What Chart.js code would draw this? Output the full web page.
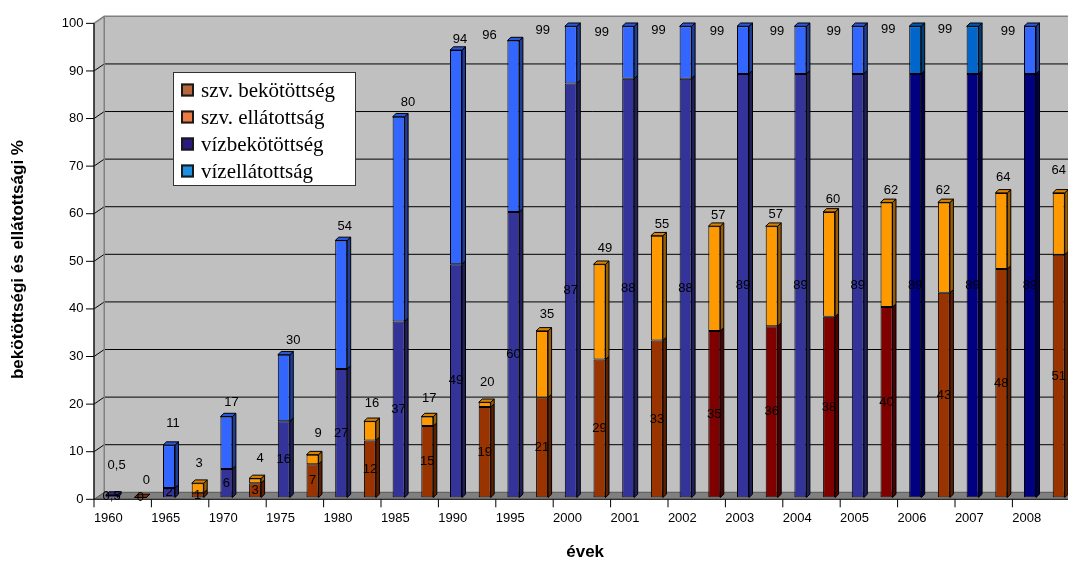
<!DOCTYPE html>
<html lang="hu">
<head>
<meta charset="utf-8">
<title>Víz- és szennyvízcsatorna-ellátottság</title>
<script src="https://cdn.jsdelivr.net/npm/chart.js@4.4.1/dist/chart.umd.min.js"></script>
<style>
  html, body { margin: 0; padding: 0; background: #fff; overflow: hidden; width: 1068px; height: 561px; }
  #wrap { position: relative; width: 1080px; height: 561px; }
  canvas { display: block; }
</style>
</head>
<body>
<div id="wrap"><canvas id="chart" width="1080" height="561"></canvas></div>
<script>
// ---- data ----
const years = ['1960', '1965', '1970', '1975', '1980', '1985', '1990', '1995', '2000',
               '2001', '2002', '2003', '2004', '2005', '2006', '2007', '2008'];
const vizBekotottseg = [0.5, 2, 6, 16, 27, 37, 49, 60, 87, 88, 88, 89, 89, 89, 89, 89, 89];
const vizEllatottsag = [0.5, 11, 17, 30, 54, 80, 94, 96, 99, 99, 99, 99, 99, 99, 99, 99, 99];
const szvBekotottseg = [0, 1, 3, 7, 12, 15, 19, 21, 29, 33, 35, 36, 38, 40, 43, 48, 51];
const szvEllatottsag = [0, 3, 4, 9, 16, 17, 20, 35, 49, 55, 57, 57, 60, 62, 62, 64, 64];
const yTickValues = [0, 10, 20, 30, 40, 50, 60, 70, 80, 90, 100];

// ---- styles ----
const FONT_SANS = '"Liberation Sans", Arial, Helvetica, sans-serif';
const FONT_SERIF = '"Liberation Serif", "Times New Roman", serif';
const vizBekColor = years.map(y => y >= '2006' ? '#000080' : '#333399');
const vizEllColor = years.map(y => (y === '2006' || y === '2007') ? '#0066CC' : '#3366FF');
const szvBekColor = years.map(y => (y >= '2002' && y <= '2005') ? '#800000' : '#993300');
const szvEllColor = years.map(() => '#FF9900');

// value-label placement relative to the top of each column (px)
const vizTopLabelShift = [[5, -30], [4, -22], [5, -14], [9.5, -14.5], [3.5, -14], [9.5, -14.5], [4, -11],
  [-24, -5], [-28, 4], [-26.5, 6], [-27, 4], [-26, 5], [-23.5, 5], [-24, 5], [-27, 3], [-27.5, 3], [-22, 5]];
const szvTopLabelShift = [[6, -17.5], [1.5, -20], [5, -20], [5.5, -21], [2, -18], [2, -18], [2.5, -19.5],
  [5, -16.5], [5.5, -16], [5, -11.5], [4, -11], [4, -12], [4, -12.5], [4.5, -12], [-1, -12], [2, -15], [0, -22]];

const legendItems = [
  { text: 'szv. bekötöttség', color: '#B8663C' },
  { text: 'szv. ellátottság', color: '#EA7B44' },
  { text: 'vízbekötöttség', color: '#2A1B7E' },
  { text: 'vízellátottság', color: '#1C8FE0' }
];

// 3D geometry of the plot box
const DEPTH = { dx: 3.5, dy: -3.3 };     // column depth
const FRONT = { dx: -3.25, dy: 1.8 };    // front plane (axes)
const BACK = { dx: 7, dy: -5.2 };        // back wall

// each year has a water slot followed by a sewer slot
const slotLabels = years.flatMap(y => [y, '']);
const onWater = arr => arr.flatMap(v => [v, null]);
const onSewer = arr => arr.flatMap(v => [null, v]);
const colWater = arr => arr.flatMap(c => [c, 'transparent']);
const colSewer = arr => arr.flatMap(c => ['transparent', c]);

const fmt = v => String(v).replace('.', ',');
function shade(hex, f) {
  const n = parseInt(hex.slice(1), 16);
  const r = Math.round(((n >> 16) & 255) * f);
  const g = Math.round(((n >> 8) & 255) * f);
  const b = Math.round((n & 255) * f);
  return `rgb(${r},${g},${b})`;
}

const barStyle = { borderColor: '#000', borderWidth: 1, borderSkipped: false,
                   barPercentage: 1, categoryPercentage: 0.418 };

const datasets = [
  { label: 'vízbekötöttség', data: onWater(vizBekotottseg), backgroundColor: colWater(vizBekColor), ...barStyle },
  { label: 'vízellátottság', data: onWater(vizEllatottsag.map((v, i) => v - vizBekotottseg[i])), backgroundColor: colWater(vizEllColor), ...barStyle },
  { label: 'szv. bekötöttség', data: onSewer(szvBekotottseg), backgroundColor: colSewer(szvBekColor), ...barStyle },
  { label: 'szv. ellátottság', data: onSewer(szvEllatottsag.map((v, i) => v - szvBekotottseg[i])), backgroundColor: colSewer(szvEllColor), ...barStyle }
];

// walls, floor, gridlines and axis lines
const frame3d = {
  id: 'frame3d',
  beforeDatasetsDraw(chart) {
    const { ctx, chartArea: a, scales: { x, y } } = chart;
    const W = chart.width;
    const fx = a.left + FRONT.dx, bx = a.left + BACK.dx;
    const fy = v => y.getPixelForValue(v) + FRONT.dy;
    const by = v => y.getPixelForValue(v) + BACK.dy;
    ctx.save();
    ctx.fillStyle = '#C0C0C0';
    ctx.fillRect(bx, by(100), W - bx, by(0) - by(100));
    ctx.beginPath();
    ctx.moveTo(fx, fy(100)); ctx.lineTo(bx, by(100)); ctx.lineTo(bx, by(0)); ctx.lineTo(fx, fy(0));
    ctx.closePath(); ctx.fill();
    ctx.fillStyle = '#808080';
    ctx.beginPath();
    ctx.moveTo(fx, fy(0)); ctx.lineTo(bx, by(0)); ctx.lineTo(W, by(0)); ctx.lineTo(W, fy(0));
    ctx.closePath(); ctx.fill();

    ctx.strokeStyle = '#000'; ctx.lineWidth = 1;
    yTickValues.forEach(v => {
      if (v === 0 || v === 100) return;
      ctx.beginPath();
      ctx.moveTo(fx, fy(v)); ctx.lineTo(bx, by(v)); ctx.lineTo(W, by(v));
      ctx.stroke();
    });
    ctx.strokeStyle = '#555';
    ctx.beginPath(); ctx.moveTo(fx, fy(0)); ctx.lineTo(bx, by(0)); ctx.lineTo(W, by(0)); ctx.stroke();

    ctx.strokeStyle = '#808080'; ctx.lineWidth = 1.5;
    ctx.beginPath();
    ctx.moveTo(fx, fy(100)); ctx.lineTo(bx, by(100)); ctx.lineTo(W, by(100));
    ctx.moveTo(bx, by(100)); ctx.lineTo(bx, by(0));
    ctx.stroke();

    ctx.strokeStyle = '#222'; ctx.lineWidth = 1.6;
    ctx.beginPath(); ctx.moveTo(fx, fy(100)); ctx.lineTo(fx, fy(0)); ctx.stroke();
    ctx.strokeStyle = '#000'; ctx.lineWidth = 1;
    ctx.beginPath(); ctx.moveTo(fx, fy(0)); ctx.lineTo(W, fy(0)); ctx.stroke();
    ctx.beginPath();
    yTickValues.forEach(v => { ctx.moveTo(fx - 8, fy(v)); ctx.lineTo(fx, fy(v)); });
    const slotW = x.getPixelForValue(1) - x.getPixelForValue(0);
    for (let k = 0; k <= years.length; k++) {
      const px = x.getPixelForValue(0) - slotW / 2 + 2 * k * slotW + FRONT.dx;
      ctx.moveTo(px, fy(0)); ctx.lineTo(px, fy(0) + 8);
    }
    ctx.stroke();
    ctx.restore();
  },
  afterDatasetsDraw(chart) {
    const ctx = chart.ctx;
    const metas = [0, 1, 2, 3].map(i => chart.getDatasetMeta(i));
    ctx.save();
    ctx.strokeStyle = '#000'; ctx.lineWidth = 1; ctx.lineJoin = 'round';
    const poly = (pts, fill) => {
      ctx.beginPath();
      ctx.moveTo(pts[0][0], pts[0][1]);
      for (let i = 1; i < pts.length; i++) ctx.lineTo(pts[i][0], pts[i][1]);
      ctx.closePath();
      ctx.fillStyle = fill; ctx.fill(); ctx.stroke();
    };
    const side = (el, color) => {
      const r = el.x + el.width / 2;
      poly([[r, el.y], [r + DEPTH.dx, el.y + DEPTH.dy], [r + DEPTH.dx, el.base + DEPTH.dy], [r, el.base]], shade(color, 0.6));
    };
    const topFace = (el, color) => {
      const l = el.x - el.width / 2, r = el.x + el.width / 2, t = el.y;
      poly([[l, t], [l + DEPTH.dx, t + DEPTH.dy], [r + DEPTH.dx, t + DEPTH.dy], [r, t]], shade(color, 0.85));
    };
    for (let s = 0; s < slotLabels.length; s++) {
      const water = s % 2 === 0, k = s >> 1;
      const lower = metas[water ? 0 : 2].data[s].getProps(['x', 'y', 'base', 'width'], true);
      const upper = metas[water ? 1 : 3].data[s].getProps(['x', 'y', 'base', 'width'], true);
      const lc = (water ? vizBekColor : szvBekColor)[k];
      const uc = (water ? vizEllColor : szvEllColor)[k];
      side(lower, lc);
      side(upper, uc);
      topFace(upper, Math.abs(upper.base - upper.y) > 0.5 ? uc : lc);
    }
    // value labels
    ctx.font = '13px ' + FONT_SANS;
    ctx.fillStyle = '#000';
    ctx.textAlign = 'center';
    ctx.textBaseline = 'middle';
    for (let s = 0; s < slotLabels.length; s++) {
      const water = s % 2 === 0, k = s >> 1;
      const lower = metas[water ? 0 : 2].data[s].getProps(['x', 'y', 'base'], true);
      const upper = metas[water ? 1 : 3].data[s].getProps(['x', 'y', 'base'], true);
      const shift = (water ? vizTopLabelShift : szvTopLabelShift)[k];
      const topVal = (water ? vizEllatottsag : szvEllatottsag)[k];
      const innerVal = (water ? vizBekotottseg : szvBekotottseg)[k];
      ctx.fillText(fmt(topVal), upper.x + shift[0], upper.y + shift[1]);
      ctx.fillText(fmt(innerVal), lower.x, (lower.y + lower.base) / 2);
    }
    ctx.restore();
  },
  afterDraw(chart) {
    const ctx = chart.ctx;
    ctx.save();
    ctx.fillStyle = '#fff';
    ctx.fillRect(173, 72.5, 183, 113);
    ctx.strokeStyle = '#333'; ctx.lineWidth = 1;
    ctx.strokeRect(173.5, 72.5, 182, 113);
    ctx.font = '21px ' + FONT_SERIF;
    ctx.textBaseline = 'alphabetic';
    ctx.textAlign = 'left';
    legendItems.forEach((item, i) => {
      const base = 96.5 + 27 * i;
      ctx.fillStyle = item.color;
      ctx.fillRect(181, base - 13, 13, 13);
      ctx.strokeStyle = '#1a1a1a'; ctx.lineWidth = 2;
      ctx.strokeRect(182, base - 12, 11, 11);
      ctx.fillStyle = '#000';
      ctx.fillText(item.text, 201, base);
    });
    ctx.restore();
  }
};

Chart.defaults.font.family = FONT_SANS;

new Chart(document.getElementById('chart'), {
  type: 'bar',
  data: { labels: slotLabels, datasets },
  options: {
    responsive: false,
    devicePixelRatio: 1,
    animation: false,
    layout: { padding: { top: 17.5, right: 6.95, bottom: 0, left: 0 } },
    plugins: { legend: { display: false }, tooltip: { enabled: false } },
    scales: {
      x: {
        stacked: true,
        offset: true,
        grid: { display: false, drawTicks: false },
        border: { display: false },
        ticks: { autoSkip: false, maxRotation: 0, minRotation: 0, padding: 12.7,
                 labelOffset: FRONT.dx, color: '#000', font: { size: 13 } },
        title: { display: true, text: 'évek', color: '#000',
                 font: { size: 17, weight: 'bold', lineHeight: 1 }, padding: { top: 0, bottom: 0 } },
        afterFit: s => { s.height = 63.5; }
      },
      y: {
        stacked: true,
        min: 0,
        max: 100,
        afterBuildTicks: s => { s.ticks = yTickValues.map(v => ({ value: v })); },
        grid: { display: false, drawTicks: false },
        border: { display: false },
        ticks: { padding: 13.75, labelOffset: FRONT.dy, color: '#000', font: { size: 13 } },
        title: { display: true, text: 'bekötöttségi és ellátottsági %', color: '#000',
                 font: { size: 17, weight: 'bold', lineHeight: 1 }, padding: { top: 9.5, bottom: 0 } },
        afterFit: s => { s.width = 97.25; }
      }
    }
  },
  plugins: [frame3d]
});
</script>
</body>
</html>
